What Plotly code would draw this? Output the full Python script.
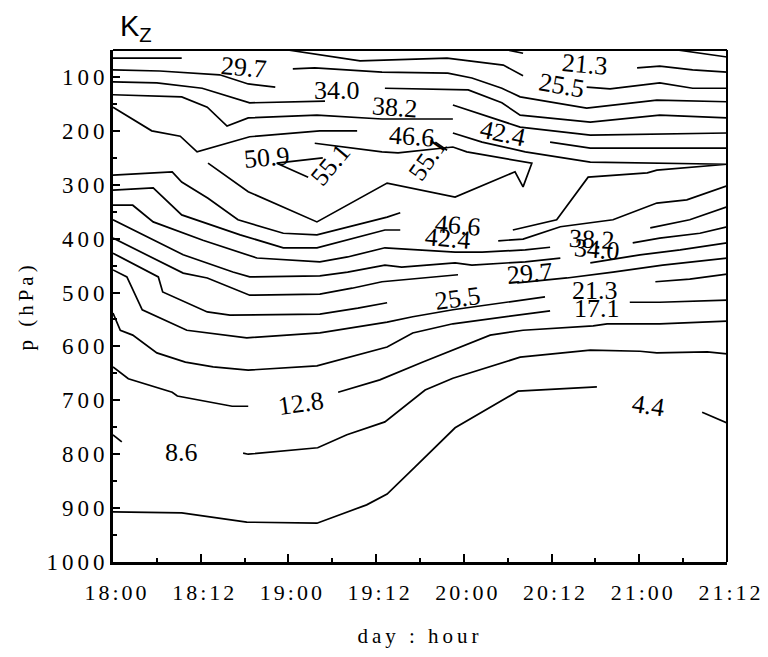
import plotly.graph_objects as go

# time axis: hours since day 18, 00 h ; pressure axis: hPa
tick_hours = [0, 12, 24, 36, 48, 60, 72, 84]
tick_text_x = ["18:00", "18:12", "19:00", "19:12", "20:00", "20:12", "21:00", "21:12"]
tick_p = [100, 200, 300, 400, 500, 600, 700, 800, 900, 1000]

# contour lines of K_z (None separates line pieces)
c4_4_t = [0, 9.4, 18.3, 27.9, 34.7, 37.5, 41.3, 44.1, 46.8, 55.4, 66.2, None, 80.6, 84]
c4_4_p = [907, 909, 926, 928, 894, 874, 824, 787, 751, 683, 675, None, 722, 742]

c8_6_t = [0, 1.2, None, 17.8, 18.5, 28.0, 32.0, 37.2, 41.3, 42.7, 46.5, 55.7, 65.3, 72.1, 74.4, 81.3, 84]
c8_6_p = [764, 777, None, 798, 800, 788, 764, 740, 696, 681, 659, 620, 607, 609, 612, 610, 614]

c12_8_t = [0, 2.1, 8.1, 8.8, 16.3, 18.5, None, 30.8, 34.2, 36.5, 42.4, 51.6, 56.1, 65.7, 67.6, 74.8, 84]
c12_8_p = [638, 660, 685, 692, 711, 711, None, 685, 672, 662, 629, 579, 570, 562, 558, 558, 553]

c17_1_t = [0, 1.0, 2.7, 6.0, 9.9, 13.7, 18.5, 27.9, 37.5, 41.0, 46.5, 55.7, 59.8, None,
           70.7, 74.8, 84, None, 77.2, 84]
c17_1_p = [538, 570, 579, 612, 629, 638, 644, 636, 601, 575, 558, 542, 534, None,
           518, 518, 514, None, 50, 63]

c21_3_t = [0, 1.9, 4.0, 10.1, 18.3, 28.3, 37.5, 41.0, 46.5, 55.7, 59.1, None, 74.2, 78.9, 84,
           None, 54.0, 56.1, None, 71.7, 74.8, 79.3, 84]
c21_3_p = [458, 471, 532, 570, 584, 575, 555, 545, 532, 514, 508, None, 480, 475, 466,
           None, 50, 56, None, 83, 80, 87, 91]

c25_5_t = [0, 6.2, 6.8, 12.9, 16.0, 28.3, 33.5, 37.5, None, 55.3, 62.1, 68.4, 75.2, 84,
           None, 23.9, 33.8, 45.7, 53.4, 56.1, None, 64.8, 68.0, 74.8, 79.3, 84]
c25_5_p = [427, 471, 499, 536, 542, 540, 529, 519, None, 482, 473, 462, 449, 436,
           None, 50, 70, 65, 78, 98, None, 119, 122, 111, 121, 121]

c29_7_t = [0, 5.5, 9.6, 12.9, 18.7, 28.3, 32.7, 36.8, 47.2, None, 65.3, 72.1, 77.6, 84,
           None, 0, 9.4, None, 24.6, 27.6, 36.8, 45.8, 49.1, 53.2, 55.7, 64.8, 74.4, 84]
c29_7_p = [399, 436, 464, 473, 505, 503, 492, 480, 467, None, 445, 430, 421, 408,
           None, 65, 65, None, 85, 83, 91, 93, 102, 121, 137, 158, 143, 146]

c34_0_t = [0, 5.5, 9.6, 16.4, 18.7, 28.3, 32.1, 37.2, 39.5, 46.8, 49.1, 56.4, 61.2, None,
           71.1, 74.8, 80.3, 84, None, 0, 6.4, 14.6, 18.5, 22.2, None,
           37.2, 48.6, 53.2, 55.7, 65.3, 74.8, 84]
c34_0_p = [365, 403, 430, 462, 471, 469, 462, 449, 453, 445, 449, 443, 436, None,
           408, 399, 390, 378, None, 87, 89, 96, 113, 119, None,
           121, 124, 148, 171, 184, 171, 176]

c38_2_t = [0, 2.7, 5.5, 12.3, 19.7, 28.3, 32.1, 37.2, 46.8, 50.5, 56.4, 59.8, None,
           73.5, 78.9, 84, None, 0, 6.0, 12.2, 18.7, 29.0, None, 46.5, 55.7, 65.3, 84]
c38_2_p = [338, 338, 369, 403, 436, 443, 434, 417, 425, 425, 421, 416, None,
           380, 365, 341, None, 109, 111, 121, 148, 145, None, 152, 193, 208, 204]

c42_4_t = [0, 5.5, 9.4, 17.4, 23.3, 27.9, 37.2, 39.3, None, 52.7, 56.1, 61.2, 68.4, 74.4, 78.5, 84,
           None, 0, 9.4, 12.9, 15.6, 18.5, 27.9, 36.8, 46.5, None, 59.8, 65.3, 84]
c42_4_p = [310, 306, 356, 393, 417, 417, 384, 384, None, 404, 401, 378, 365, 334, 328, 302,
           None, 133, 137, 156, 191, 176, 171, 178, 178, None, 221, 232, 232]

c46_6_t = [0, 5.3, 9.2, 11.5, 18.7, 28.3, 33.4, None, 46.5, 50.5, 56.4, 65.3, 84,
           74.4, 73.1, 65.0, 60.7, 54.7, None, 39.3, 37.5, 27.9, 23.3, 17.1, 13.0, 9.4, 8.1, 0]
c46_6_p = [156, 200, 210, 239, 211, 200, 200, None, 204, 221, 239, 258, 262,
           273, 278, 286, 365, 384, None, 352, 360, 393, 390, 365, 325, 295, 276, 282]

c50_9_t = [27.6, 36.8, 39.0, 46.5, 48.4, 57.3, 56.1, 55.0, 46.8, 37.5, 27.9, 18.5, 13.0]
c50_9_p = [223, 239, 241, 230, 239, 260, 304, 276, 323, 297, 369, 313, 260]

c55_1_t = [28.7, 22.4, 26.7, None, 44.1, 45.7]
c55_1_p = [250, 260, 286, None, 221, 236]

contour_t = [c4_4_t, c8_6_t, c12_8_t, c17_1_t, c21_3_t, c25_5_t, c29_7_t,
             c34_0_t, c38_2_t, c42_4_t, c46_6_t, c50_9_t, c55_1_t]
contour_p = [c4_4_p, c8_6_p, c12_8_p, c17_1_p, c21_3_p, c25_5_p, c29_7_p,
             c34_0_p, c38_2_p, c42_4_p, c46_6_p, c50_9_p, c55_1_p]

# contour labels: text, time (h), pressure (hPa), rotation (deg)
label_text = ["29.7", "21.3", "25.5", "34.0", "38.2", "46.6", "42.4", "50.9", "55.1", "55.1",
              "46.6", "42.4", "38.2", "34.0", "29.7", "25.5", "21.3", "17.1", "12.8", "8.6", "4.4"]
label_t = [17.9, 64.6, 61.4, 30.6, 38.6, 40.9, 53.4, 21.1, 29.8, 43.1,
           47.2, 45.8, 65.5, 66.2, 57.0, 47.2, 65.9, 66.2, 25.7, 9.4, 73.2]
label_p = [82, 76, 115, 126, 156, 210, 204, 250, 263, 252,
           375, 399, 401, 421, 464, 512, 497, 529, 705, 796, 709]
label_ang = [5, 5, 10, 0, 4, 4, 12, -5, -50, -55,
             5, 5, 3, 5, -5, -8, 0, 0, -8, 0, 8]

SERIF = "Liberation Serif"


def spaced(s, px):
    return '<span style="letter-spacing:%dpx">%s</span>' % (px, s)


fig = go.Figure()
for t, p in zip(contour_t, contour_p):
    fig.add_trace(go.Scatter(x=t, y=p, mode="lines", connectgaps=False,
                             line=dict(color="black", width=1.7), hoverinfo="skip",
                             showlegend=False))

for txt, t, p, a in zip(label_text, label_t, label_p, label_ang):
    fig.add_annotation(x=t, y=p, xref="x", yref="y", text=txt, showarrow=False,
                       textangle=a, font=dict(family=SERIF, size=26, color="black"))

fig.update_xaxes(range=[0, 84], tickmode="array", tickvals=tick_hours,
                 ticktext=[spaced(s, 3) for s in tick_text_x],
                 ticks="inside", ticklen=8, tickwidth=2, tickcolor="black",
                 minor=dict(ticks="inside", ticklen=4, tickwidth=1.5, tickcolor="black",
                            dtick=6, tick0=0, showgrid=False),
                 showline=True, linewidth=3, linecolor="black", automargin=False,
                 showgrid=False, zeroline=False, ticklabelstandoff=9, ticklabelshift=4,
                 tickfont=dict(family=SERIF, size=22, color="black"),
                 title=dict(text=spaced("day : hour", 4), standoff=24,
                            font=dict(family=SERIF, size=21, color="black")))
fig.update_yaxes(range=[1000, 50], tickmode="array", tickvals=tick_p,
                 ticktext=[spaced(str(v), 4) for v in tick_p],
                 ticks="inside", ticklen=7, tickwidth=2, tickcolor="black",
                 minor=dict(ticks="inside", ticklen=4, tickwidth=1.5, tickcolor="black",
                            dtick=50, tick0=50, showgrid=False),
                 showline=True, linewidth=3, linecolor="black", automargin=False,
                 showgrid=False, zeroline=False, ticklabelstandoff=-3,
                 tickfont=dict(family=SERIF, size=23, color="black"),
                 title=dict(text=spaced("p (hPa)", 4), standoff=8,
                            font=dict(family=SERIF, size=21, color="black")))

fig.add_shape(type="line", xref="paper", yref="paper", x0=0, x1=1, y0=1, y1=1,
              line=dict(color="black", width=2))
fig.add_shape(type="line", xref="paper", yref="paper", x0=1, x1=1, y0=0, y1=1,
              line=dict(color="black", width=2))

fig.add_annotation(xref="paper", yref="paper", x=0.008, y=1.083, xanchor="left", yanchor="top",
                   text="K<sub>Z</sub>", showarrow=False,
                   font=dict(family="Liberation Sans", size=29, color="black"))

fig.update_layout(width=768, height=657, margin=dict(l=113, r=41, t=50, b=95),
                  plot_bgcolor="white", paper_bgcolor="white")

fig.write_html("out.html")
